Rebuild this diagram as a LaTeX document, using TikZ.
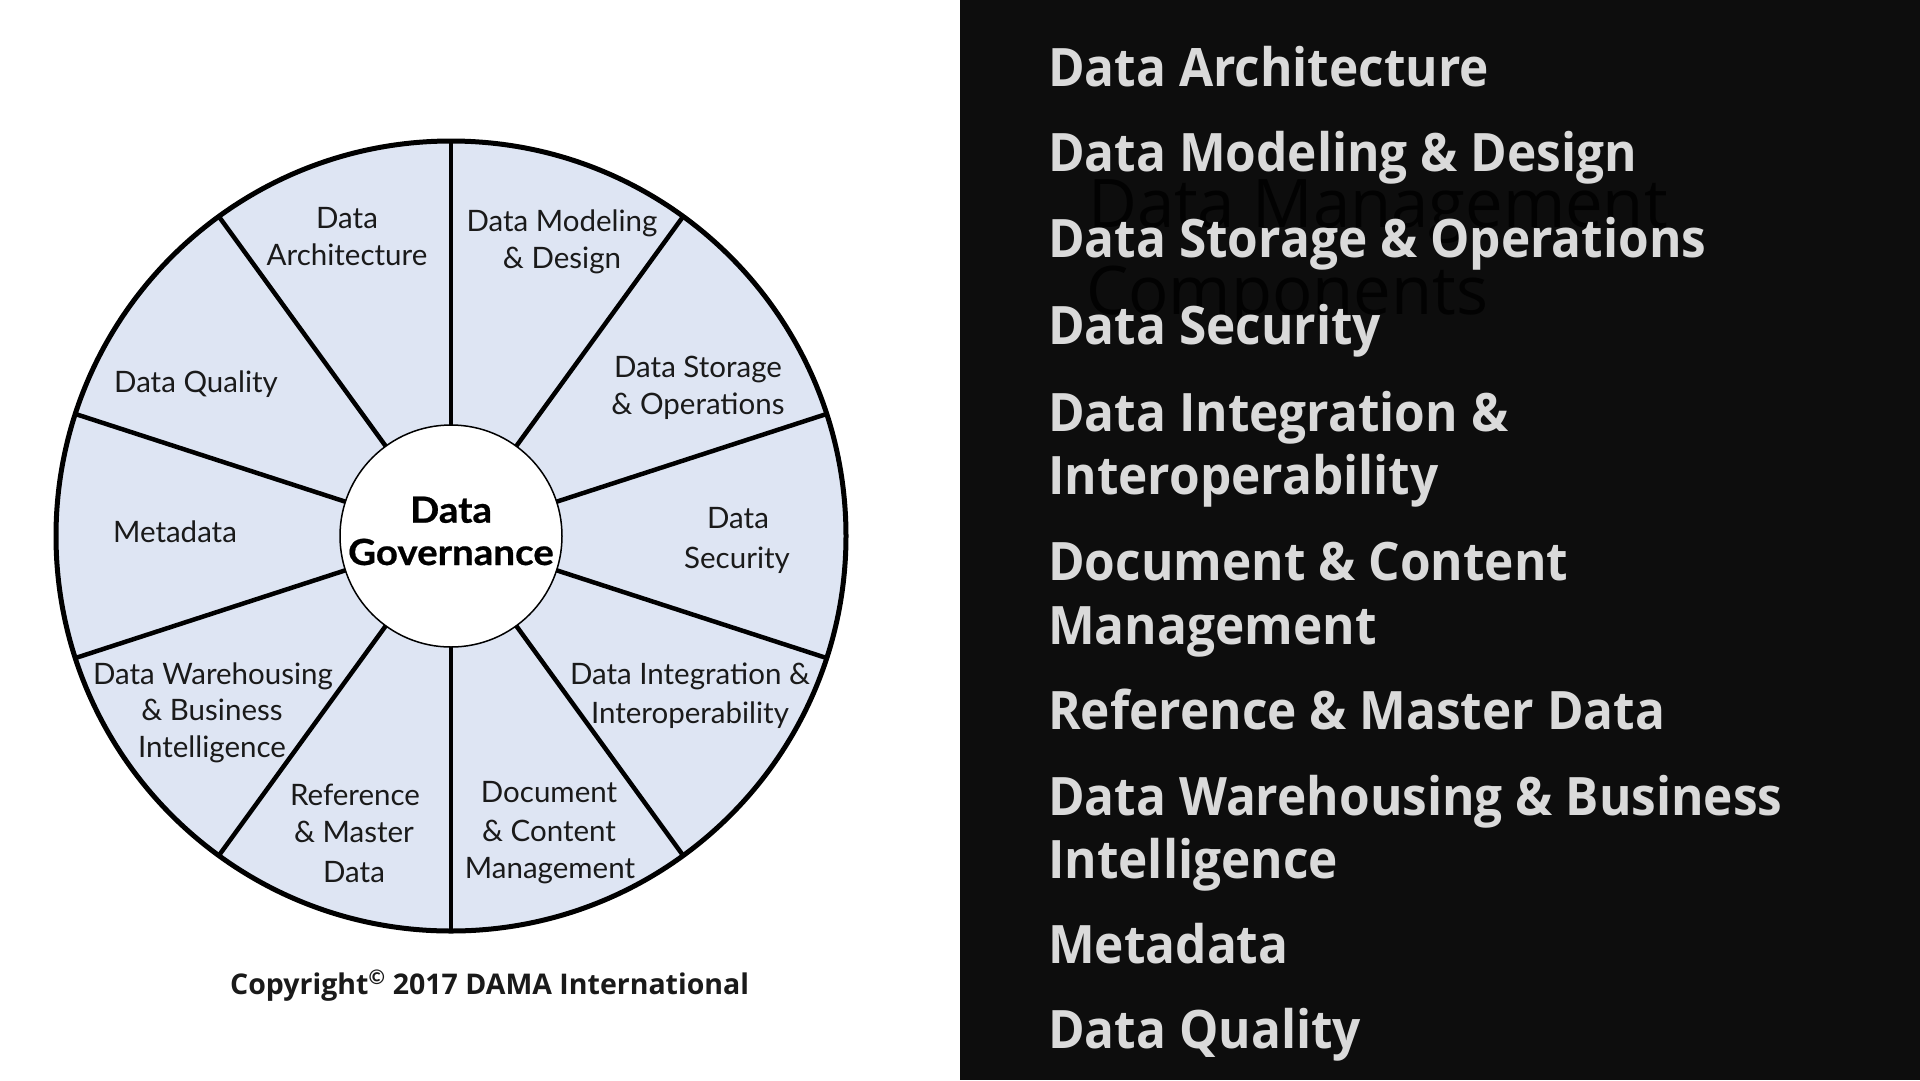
\documentclass[tikz,border=0pt]{standalone}
\usepackage{fontspec}
\setmainfont{Lato}
\newfontfamily\wheelfont{Lato}
\newfontfamily\hubfont{Lato}[FakeStretch=1.07,BoldFeatures={FakeBold=0.6}]
\newfontfamily\listfont{Open Sans}[FakeStretch=0.935]
\newfontfamily\titlefont{Open Sans}
\newfontfamily\copyfont{Open Sans}
\definecolor{panelbg}{HTML}{0D0D0D}
\definecolor{listtxt}{HTML}{DADADA}
\definecolor{titletxt}{HTML}{020202}
\definecolor{wheelblue}{HTML}{DEE5F3}
\definecolor{wheeltxt}{HTML}{1A1A1A}
\begin{document}
\begin{tikzpicture}[x=1pt,y=-1pt,
  wheelnode/.style={circle,minimum size=790pt,inner sep=0pt,outer sep=0pt,fill=wheelblue,draw=black,line width=5pt},
  hubnode/.style={circle,minimum size=222pt,inner sep=0pt,outer sep=0pt,fill=white,draw=black,line width=1.5pt},
  spoke/.style={draw=black,line width=4.5pt},
  wlabel/.style={anchor=base,inner sep=0pt,text=wheeltxt,font=\wheelfont\fontsize{29.5}{36}\selectfont},
  hublabel/.style={anchor=base,inner sep=0pt,text=black,font=\hubfont\bfseries\fontsize{36}{42}\selectfont},
  listitem/.style={anchor=base west,inner sep=0pt,text=listtxt,font=\listfont\bfseries\fontsize{53}{63}\selectfont},
  titleitem/.style={anchor=base west,inner sep=0pt,text=titletxt,font=\titlefont\fontsize{67}{80}\selectfont},
  copyitem/.style={anchor=base west,inner sep=0pt,text=wheeltxt,font=\copyfont\bfseries\fontsize{28.5}{34}\selectfont}]
\useasboundingbox (0,0) rectangle (1920,1080);
\fill[white] (0,0) rectangle (960,1080);
\fill[panelbg] (960,0) rectangle (1920,1080);
% wheel
\node[wheelnode] (wheel) at (451,536) {};
\node[hubnode] (hub) at (451,536) {};
\foreach \a in {90,126,162,198,234,270,306,342,18,54}
  \draw[spoke] (hub.\a) -- (wheel.\a);
\node[hublabel] (hubA) at (451,522.7) {Data};
\node[hublabel] (hubB) at (451,565) {Governance};
% wheel labels
\foreach \n/\x/\y/\t in {
  a1/347/228/Data, a2/347/265.5/Architecture,
  b1/562/231/Data Modeling, b2/562/268.5/\& Design,
  c1/698/377.5/Data Storage, c2/698/414.5/\& Operations,
  d1/738/528.5/Data, d2/737/568/Security,
  e1/690/684.5/Data Integration \&, e2/690/723.5/Interoperability,
  f1/549/802.5/Document, f2/549/841.5/\& Content, f3/550/878.5/Management,
  g1/355/805.5/Reference, g2/354/842.5/\& Master, g3/354/882.5/Data,
  h1/213/684.5/Data Warehousing, h2/212/720.5/\& Business, h3/212/757.5/Intelligence,
  i1/175/542.5/Metadata,
  j1/196/392.5/Data Quality}
  \node[wlabel] (wl\n) at (\x,\y) {\t};
\node[copyitem] (copy) at (230,994) {Copyright\textsuperscript{\normalfont\bfseries ©} 2017 DAMA International};
% title behind list
\node[titleitem] (title1) at (1088,227) {Data Management};
\node[titleitem] (title2) at (1086,314) {Components};
% list
\foreach \n/\y/\t in {
  1/86.7/Data Architecture,
  2/171/Data Modeling \& Design,
  3/257.6/Data Storage \& Operations,
  4/344/Data Security,
  5/431/Data Integration \&,
  6/494/Interoperability,
  7/580.6/Document \& Content,
  8/644/Management,
  9/729.6/Reference \& Master Data,
  10/815.7/Data Warehousing \& Business,
  11/878/Intelligence,
  12/963.7/Metadata,
  13/1048/Data Quality}
  \node[listitem] (li\n) at (1048,\y) {\t};
\end{tikzpicture}
\end{document}
